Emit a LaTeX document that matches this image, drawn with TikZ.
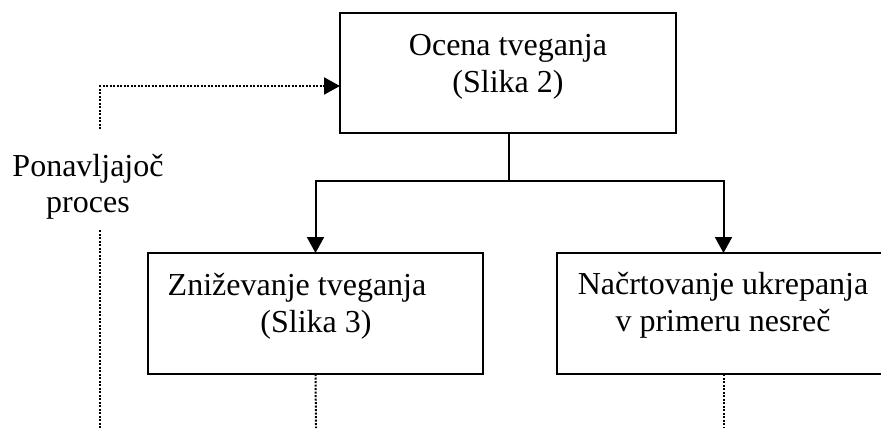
\documentclass[tikz,border=0pt]{standalone}
\usepackage{fontspec}
\setmainfont{Liberation Serif}
\usetikzlibrary{arrows.meta}
\begin{document}
\begin{tikzpicture}[x=0.5pt,y=-0.5pt,
  boxnode/.style={draw,line width=1.3pt,inner sep=0pt,outer sep=0pt,minimum width=#1*0.5pt,minimum height=60.5pt},
  txt/.style={font=\fontsize{16pt}{18.4pt}\selectfont,inner sep=0pt,anchor=base},
  conn/.style={line width=1pt},
  dots/.style={line width=1pt,dash pattern=on 1pt off 0.75pt},
  tip/.style={-{Triangle[length=8pt,width=8.5pt]}}]
\clip (0,0) rectangle (881,428);
% boxes
\node[boxnode=336,minimum height=60pt] (top) at (508,73) {};
\node[boxnode=335] (left) at (315.5,313.5) {};
\node[boxnode=333] (right) at (723.5,313.5) {};
% texts
\node[txt] (t1) at (508,55) {Ocena tveganja};
\node[txt] (t2) at (508,92) {(Slika 2)};
\node[txt] (l1) at (297,295) {Zniževanje tveganja};
\node[txt] (l2) at (316,332) {(Slika 3)};
\node[txt] (r1) at (723,294) {Načrtovanje ukrepanja};
\node[txt] (r2) at (723,331) {v primeru nesreč};
\node[txt] (p1) at (88,176) {Ponavljajoč};
\node[txt] (p2) at (88,212) {proces};
% connectors
\coordinate (split) at (509,181);
\draw[conn] (top.south -| split) -- (split);
\draw[conn,tip] (split) -| (left.north);
\draw[conn,tip] (split) -| (right.north);
% dotted loop
\coordinate (loopbot) at (100,428);
\coordinate (loopmid) at (100,229);
\coordinate (looptop) at (100,129);
\coordinate (tin) at (340,86);
\draw[dots] (loopbot) -- (loopmid);
\draw[dots,tip] (looptop) |- (tin);
\coordinate (lbot) at (316,428);
\coordinate (rbot) at (724,428);
\draw[dots] (left.south) -- (lbot);
\draw[dots] (right.south -| rbot) -- (rbot);
\end{tikzpicture}
\end{document}
